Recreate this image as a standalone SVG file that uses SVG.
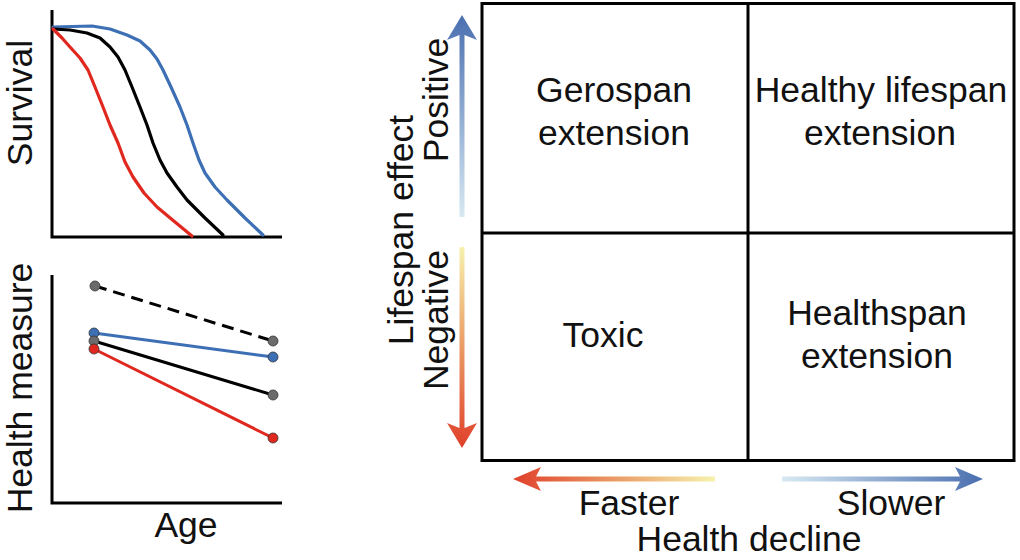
<svg xmlns="http://www.w3.org/2000/svg" width="1020" height="560" viewBox="0 0 1020 560">
<style>
text{font-family:"Liberation Sans",Arial,sans-serif;font-size:35.5px;fill:#111}
.ax{stroke:#000;stroke-width:3;fill:none}
.cv{stroke-width:3.2;fill:none;stroke-linejoin:round;stroke-linecap:round}
.dot{stroke:#333;stroke-width:0.8}
</style>
<defs>
<linearGradient id="gPos" gradientUnits="userSpaceOnUse" x1="0" y1="15" x2="0" y2="217"><stop offset="0" stop-color="#4a6fb0"/><stop offset="1" stop-color="#d8e9f2"/></linearGradient>
<linearGradient id="gNeg" gradientUnits="userSpaceOnUse" x1="0" y1="247" x2="0" y2="448"><stop offset="0" stop-color="#f6f2ae"/><stop offset="0.45" stop-color="#eba36b"/><stop offset="1" stop-color="#e0402a"/></linearGradient>
<linearGradient id="gFast" gradientUnits="userSpaceOnUse" x1="513" y1="0" x2="715" y2="0"><stop offset="0" stop-color="#e0402a"/><stop offset="0.55" stop-color="#eba36b"/><stop offset="1" stop-color="#f6f2ae"/></linearGradient>
<linearGradient id="gSlow" gradientUnits="userSpaceOnUse" x1="782" y1="0" x2="983" y2="0"><stop offset="0" stop-color="#d8e9f2"/><stop offset="1" stop-color="#4a6fb0"/></linearGradient>
</defs>

<g id="survival-plot">
<path class="ax" d="M52,10 V237 H282"/>
<polyline class="cv" stroke="#3d6fb5" points="53,27 92,26 110,29 127,35 140,41 150,50 157,59 163,70 171,87 180,107 187,125 193,143 199,160 205,173 215,187 227,200 245,218 263,235"/>
<polyline class="cv" stroke="#000" points="53,29 70,30 87,33 100,38 110,47 118,57 125,70 132,87 140,107 147,125 153,143 160,160 167,173 177,187 187,200 205,218 223,235"/>
<polyline class="cv" stroke="#e0281e" points="53,29 62,38 70,47 80,58 88,70 95,87 103,107 110,125 118,143 125,162 133,177 144,193 157,207 175,222 192,236"/>
<text transform="translate(32,103) rotate(-90)" text-anchor="middle">Survival</text>
</g>

<g id="health-plot">
<path class="ax" d="M52,275 V503 H282"/>
<line x1="95" y1="286" x2="273" y2="341" stroke="#000" stroke-width="3" stroke-dasharray="12,7"/>
<line x1="94" y1="333" x2="273" y2="357" stroke="#3d6fb5" stroke-width="3"/>
<line x1="94" y1="341" x2="273" y2="395" stroke="#000" stroke-width="3"/>
<line x1="94" y1="349" x2="273" y2="438" stroke="#e0281e" stroke-width="3"/>
<circle class="dot" cx="95" cy="286" r="5" fill="#6b6b6b"/>
<circle class="dot" cx="273" cy="341" r="5" fill="#6b6b6b"/>
<circle class="dot" cx="94" cy="333" r="5" fill="#3d6fb5"/>
<circle class="dot" cx="273" cy="357" r="5" fill="#3d6fb5"/>
<circle class="dot" cx="94" cy="341" r="5" fill="#6b6b6b"/>
<circle class="dot" cx="273" cy="395" r="5" fill="#6b6b6b"/>
<circle class="dot" cx="94" cy="349" r="5" fill="#e0281e"/>
<circle class="dot" cx="273" cy="438" r="5" fill="#e0281e"/>
<text transform="translate(32,388) rotate(-90)" text-anchor="middle">Health measure</text>
<text x="186" y="537" text-anchor="middle">Age</text>
</g>

<g id="grid">
<rect x="482" y="3.5" width="532" height="457" fill="none" stroke="#000" stroke-width="3"/>
<line x1="748" y1="3.5" x2="748" y2="460.5" stroke="#000" stroke-width="3"/>
<line x1="482" y1="233" x2="1014" y2="233" stroke="#000" stroke-width="3"/>
</g>

<g id="q-gerospan"><text x="614" y="102" text-anchor="middle">Gerospan</text><text x="614" y="145" text-anchor="middle">extension</text></g>
<g id="q-healthy-lifespan"><text x="881" y="102" text-anchor="middle">Healthy lifespan</text><text x="880" y="145" text-anchor="middle">extension</text></g>
<g id="q-toxic"><text x="603" y="347" text-anchor="middle">Toxic</text></g>
<g id="q-healthspan"><text x="877" y="325" text-anchor="middle">Healthspan</text><text x="877" y="368" text-anchor="middle">extension</text></g>

<g id="axis-arrows">
<polygon fill="url(#gPos)" points="462,15 477,40 464.5,35 464.5,217 459.5,217 459.5,35 447,40"/>
<polygon fill="url(#gNeg)" points="459.5,247 464.5,247 464.5,428 477,423 462,448 447,423 459.5,428"/>
<polygon fill="url(#gFast)" points="715,476.5 715,481.5 536,481.5 541,491 513,479 541,467 536,476.5"/>
<polygon fill="url(#gSlow)" points="782,476.5 960,476.5 955,467 983,479 955,491 960,481.5 782,481.5"/>
</g>

<g id="axis-labels">
<text transform="translate(413,230) rotate(-90)" text-anchor="middle">Lifespan effect</text>
<text transform="translate(448,100) rotate(-90)" text-anchor="middle">Positive</text>
<text transform="translate(448,320) rotate(-90)" text-anchor="middle">Negative</text>
<text x="629" y="515" text-anchor="middle">Faster</text>
<text x="891" y="515" text-anchor="middle">Slower</text>
<text x="749" y="551" text-anchor="middle">Health decline</text>
</g>
</svg>
